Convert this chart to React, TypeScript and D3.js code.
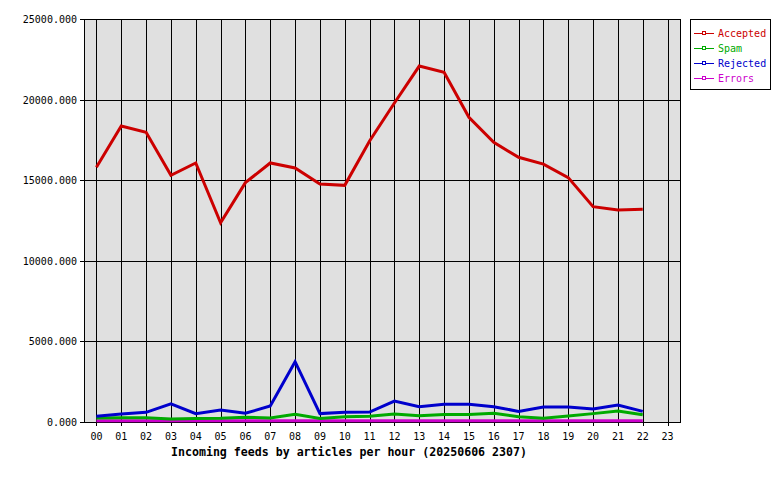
import React from "react";
import * as d3 from "d3";

const hours = ["00","01","02","03","04","05","06","07","08","09","10","11","12","13","14","15","16","17","18","19","20","21","22","23"];
const accepted = [15800,18360,17970,15300,16070,12360,14850,16070,15760,14760,14680,17430,19790,22080,21690,18900,17350,16420,16000,15160,13360,13150,13200];
const spam = [250,270,270,190,210,230,290,250,480,220,330,350,500,390,470,470,540,330,230,370,520,680,450];
const rejected = [350,500,600,1120,520,740,540,990,3740,520,600,620,1300,950,1100,1100,950,660,930,930,800,1050,660];
const errors = [80,80,80,80,80,80,80,80,80,80,80,80,80,80,80,80,80,80,80,80,80,80,80];
const yTicks = [0,5000,10000,15000,20000,25000];
const seriesNames = ["Accepted","Spam","Rejected","Errors"];
const seriesColors = ["#cc0000","#00aa00","#0000cc","#cc00cc"];
const title = "Incoming feeds by articles per hour (20250606 2307)";

export default function App() {
  const W = 780, H = 480;
  const left = 84, right = 680, top = 19, bottom = 422;
  const x = d3.scaleBand<string>().domain(hours).range([left, right]).paddingInner(0).paddingOuter(0);
  const cx = (h: string) => (x(h) as number) + x.bandwidth() / 2;
  const y = d3.scaleLinear().domain([0, 25000]).range([bottom, top]);
  const allSeries = [accepted, spam, rejected, errors];
  // draw order: errors, spam, rejected, accepted? keep visual: blue over green over magenta
  const drawOrder = [3, 1, 2, 0];
  const line = d3.line<number>().x((_, i) => cx(hours[i])).y((d) => y(d));
  const font = "'DejaVu Sans Mono', 'Liberation Mono', monospace";
  return (
    <svg width={W} height={H} style={{ position: "absolute", left: 0, top: 0, background: "#fff" }}>
      <rect x={left} y={top} width={right - left} height={bottom - top} fill="#e0e0e0" />
      {hours.map((h) => (
        <line key={"v" + h} x1={Math.round(cx(h)) + 0.5} x2={Math.round(cx(h)) + 0.5} y1={top} y2={bottom + 4} stroke="#000" strokeWidth={1} />
      ))}
      {yTicks.map((t) => (
        <line key={"h" + t} x1={left - 4} x2={right} y1={Math.round(y(t)) + 0.5} y2={Math.round(y(t)) + 0.5} stroke="#000" strokeWidth={1} />
      ))}
      <rect x={left + 0.5} y={top + 0.5} width={right - left} height={bottom - top} fill="none" stroke="#000" strokeWidth={1} />
      {yTicks.map((t) => (
        <text key={"yl" + t} x={77} y={y(t) + 4} textAnchor="end" fontFamily={font} fontSize={10} fill="#000">
          {d3.format(".3f")(t)}
        </text>
      ))}
      {hours.map((h) => (
        <text key={"xl" + h} x={cx(h)} y={440} textAnchor="middle" fontFamily={font} fontSize={10} fill="#000">
          {h}
        </text>
      ))}
      <text x={349} y={456} textAnchor="middle" fontFamily={font} fontSize={11.6} fontWeight="bold" fill="#000">
        {title}
      </text>
      {drawOrder.map((si) => (
        <path key={"s" + si} d={line(allSeries[si]) || ""} fill="none" stroke={seriesColors[si]} strokeWidth={3} strokeLinejoin="miter" />
      ))}
      <rect x={690.5} y={19.5} width={80} height={70} fill="#fff" stroke="#000" strokeWidth={1} />
      {seriesNames.map((n, i) => {
        const ly = 33 + i * 15;
        return (
          <g key={"lg" + n}>
            <line x1={694} x2={714} y1={ly + 0.5} y2={ly + 0.5} stroke={seriesColors[i]} strokeWidth={1} />
            <rect x={702.5} y={ly - 1.5} width={3} height={3} fill="#fff" stroke={seriesColors[i]} strokeWidth={1} />
            <text x={718} y={ly + 4} fontFamily={font} fontSize={10} fill={seriesColors[i]}>{n}</text>
          </g>
        );
      })}
    </svg>
  );
}
